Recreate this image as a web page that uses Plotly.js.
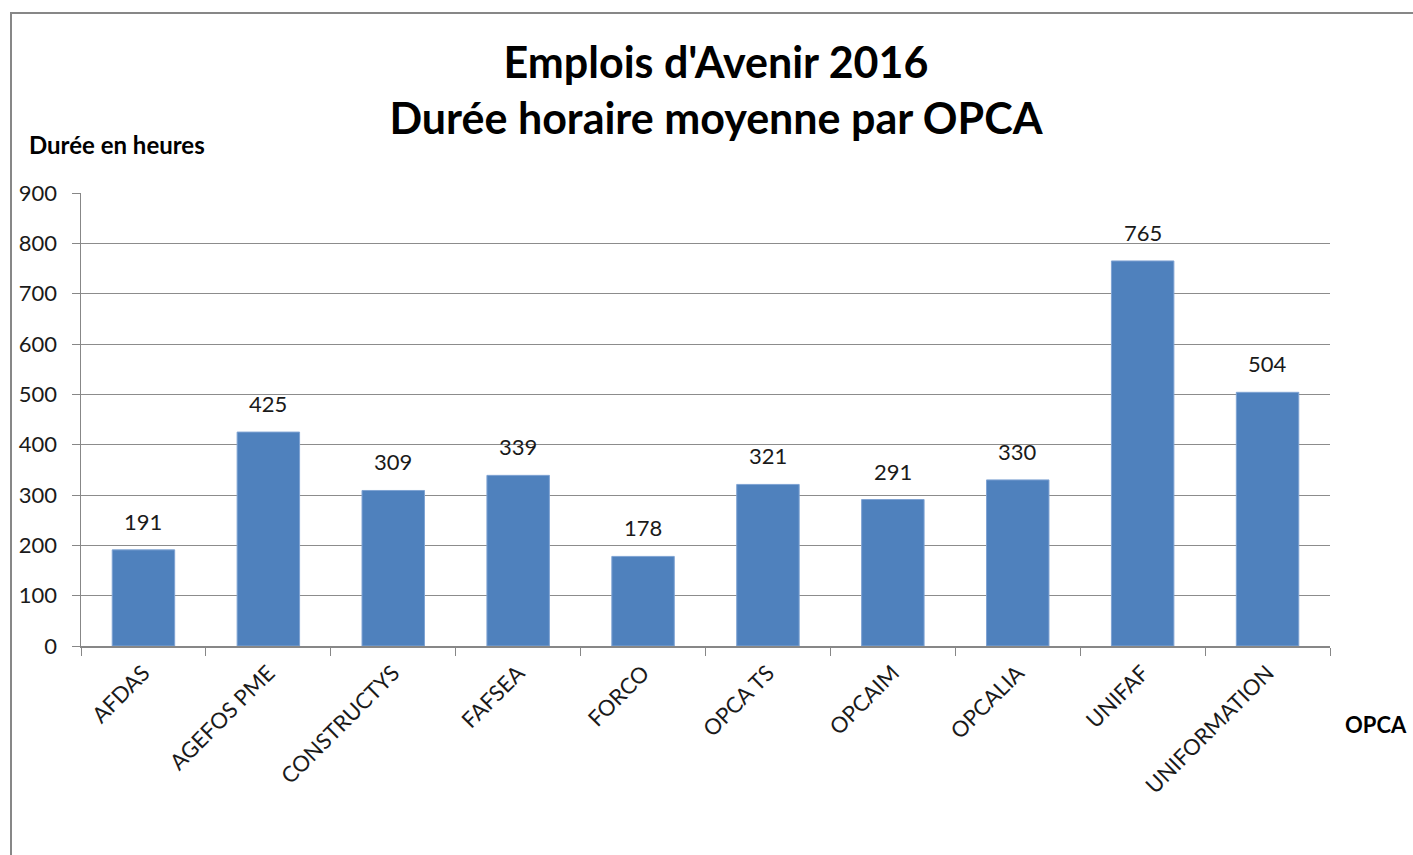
<!DOCTYPE html>
<html>
<head>
<meta charset="utf-8">
<script src="https://cdn.plot.ly/plotly-3.0.1.min.js"></script>
<style>
html,body{margin:0;padding:0;background:#fff;overflow:hidden;}
#chart{width:1413px;height:855px;position:absolute;left:0;top:0;}
#frame{position:absolute;left:10px;top:12px;width:1500px;height:1000px;border-left:2px solid #878787;border-top:2px solid #878787;pointer-events:none;}
</style>
</head>
<body>
<div id="chart"></div>
<div id="frame"></div>
<script>
var categories = ["AFDAS","AGEFOS PME","CONSTRUCTYS","FAFSEA","FORCO","OPCA TS","OPCAIM","OPCALIA","UNIFAF","UNIFORMATION"];
var values = [191,425,309,339,178,321,291,330,765,504];
var yTicks = [0,100,200,300,400,500,600,700,800,900];

var FONT = "Lato, 'Open Sans', sans-serif";

var trace = {
  type: "bar",
  x: categories,
  y: values,
  marker: {color: "#4F81BD", line: {color: "#7FA3D3", width: 1}},
  hoverinfo: "x+y"
};

var valueLabels = categories.map(function (c, i) {
  return {
    text: String(values[i]), x: c, y: values[i], xref: "x", yref: "y",
    xanchor: "center", yanchor: "bottom", yshift: 13, showarrow: false,
    font: {family: FONT, size: 22, color: "#1a1a1a"}
  };
});

var layout = {
  width: 1413,
  height: 855,
  margin: {l: 81, r: 83, t: 193, b: 209, pad: 0},
  paper_bgcolor: "#fff",
  plot_bgcolor: "#fff",
  bargap: 0.5,
  showlegend: false,
  font: {family: FONT, color: "#000"},
  title: {
    text: "<b>Emplois d'Avenir 2016</b><br><b>Durée horaire moyenne par OPCA</b>",
    x: 716/1413, xref: "container", xanchor: "center",
    y: 1 - 78/855, yref: "container", yanchor: "middle",
    font: {family: FONT, size: 43, color: "#000"}
  },
  xaxis: {
    type: "category",
    tickangle: -45,
    tickson: "boundaries",
    ticks: "outside",
    ticklen: 8,
    tickcolor: "#878787",
    ticklabelstandoff: 4,
    showline: true,
    linecolor: "#878787",
    linewidth: 1.5,
    showgrid: false,
    tickfont: {family: FONT, size: 22, color: "#1a1a1a"},
    fixedrange: true
  },
  yaxis: {
    range: [0, 900],
    tickvals: yTicks,
    ticks: "outside",
    ticklen: 8,
    tickcolor: "#878787",
    ticklabelstandoff: 10,
    showline: true,
    linecolor: "#878787",
    linewidth: 1.5,
    showgrid: true,
    gridcolor: "#8c8c8c",
    gridwidth: 1,
    zeroline: false,
    tickfont: {family: FONT, size: 22, color: "#1a1a1a"},
    fixedrange: true
  },
  annotations: valueLabels.concat([
    {text: "<b>Durée en heures</b>", xref: "paper", yref: "paper",
     x: (27-81)/1249, y: (646-145)/453, xanchor: "left", yanchor: "middle",
     showarrow: false, font: {family: FONT, size: 24, color: "#000"}},
    {text: "<b>OPCA</b>", xref: "paper", yref: "paper",
     x: (1343-81)/1249, y: (646-724)/453, xanchor: "left", yanchor: "middle",
     showarrow: false, font: {family: FONT, size: 22, color: "#000"}}
  ])
};

Plotly.newPlot("chart", [trace], layout, {displayModeBar: false, staticPlot: true});
</script>
</body>
</html>
